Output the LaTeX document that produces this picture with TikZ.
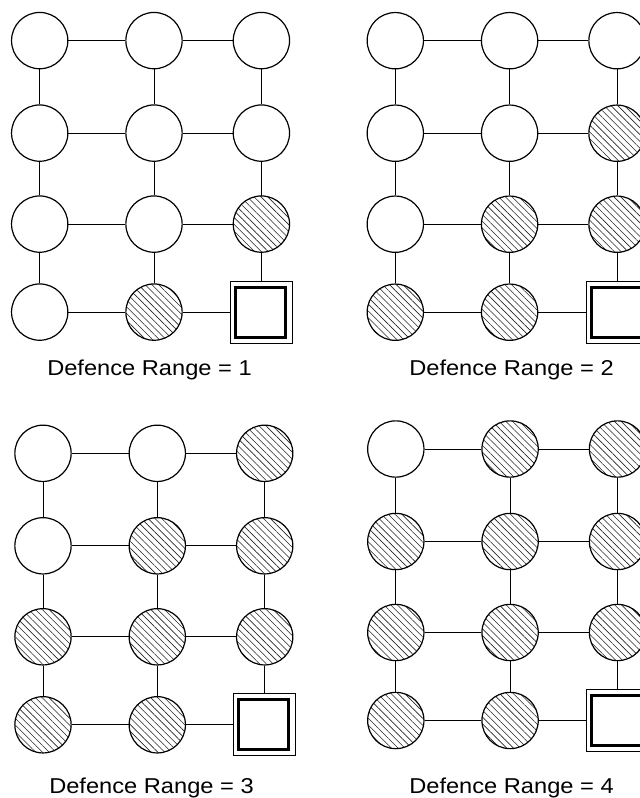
\documentclass[tikz,border=0pt]{standalone}
\usepackage{fontspec}
\newfontfamily\labfont[FakeStretch=1.1]{Liberation Sans}
\usetikzlibrary{patterns.meta}
\tikzset{
  vtx/.style={circle, draw, line width=1.2pt, minimum size=56.3pt, inner sep=0pt, fill=white},
  hvtx/.style={circle, draw, line width=1.2pt, minimum size=56.3pt, inner sep=0pt,
    pattern={Lines[angle=-45,distance=4.8pt,line width=0.6pt]}, pattern color=black!85},
  outsq/.style={rectangle, draw, line width=1pt, minimum size=62pt, inner sep=0pt, fill=white},
  insq/.style={rectangle, draw, line width=3pt, minimum size=50pt, inner sep=0pt},
  edge/.style={line width=1pt},
  lab/.style={anchor=base, inner sep=0pt, font=\labfont\fontsize{21.5}{25}\selectfont}
}
\newcommand\drawpanel[4]{%
  \foreach \r/\dy in {1/0,2/92.5,3/183.5,4/271.5}{
    \foreach \c/\dx in {1/0,2/114.3,3/221.7}{
      \pgfmathsetmacro\px{#2+\dx}
      \pgfmathsetmacro\py{#3+\dy}
      \pgfmathtruncatemacro\dd{(4-\r)+(3-\c)}
      \ifnum\dd=0
        \node[outsq] (#1-\r-\c) at (\px,\py) {};
        \node[insq] (#1-in) at (\px-1,\py) {};
      \else
        \ifnum\dd>#4
          \node[vtx] (#1-\r-\c) at (\px,\py) {};
        \else
          \node[hvtx] (#1-\r-\c) at (\px,\py) {};
        \fi
      \fi
    }
  }
  \foreach \r in {1,...,4}{
    \draw[edge] (#1-\r-1) -- (#1-\r-2);
    \draw[edge] (#1-\r-2) -- (#1-\r-3);
  }
  \foreach \c in {1,...,3}{
    \draw[edge] (#1-1-\c) -- (#1-2-\c);
    \draw[edge] (#1-2-\c) -- (#1-3-\c);
    \draw[edge] (#1-3-\c) -- (#1-4-\c);
  }
}
\begin{document}
\begin{tikzpicture}[x=1pt,y=-1pt]
\useasboundingbox (0,0) rectangle (640,798);
\clip (0,0) rectangle (640,798);
\fill[white] (0,0) rectangle (640,798);
\drawpanel{pa}{39.7}{40.6}{1}
\drawpanel{pb}{395.3}{40.7}{2}
\drawpanel{pc}{43}{453.3}{3}
\drawpanel{pd}{395.8}{449}{4}
\node[lab] (la) at (149.5,375) {Defence Range = 1};
\node[lab] (lb) at (511.5,375) {Defence Range = 2};
\node[lab] (lc) at (151.5,793.5) {Defence Range = 3};
\node[lab] (ld) at (511.5,793.5) {Defence Range = 4};
\end{tikzpicture}
\end{document}
